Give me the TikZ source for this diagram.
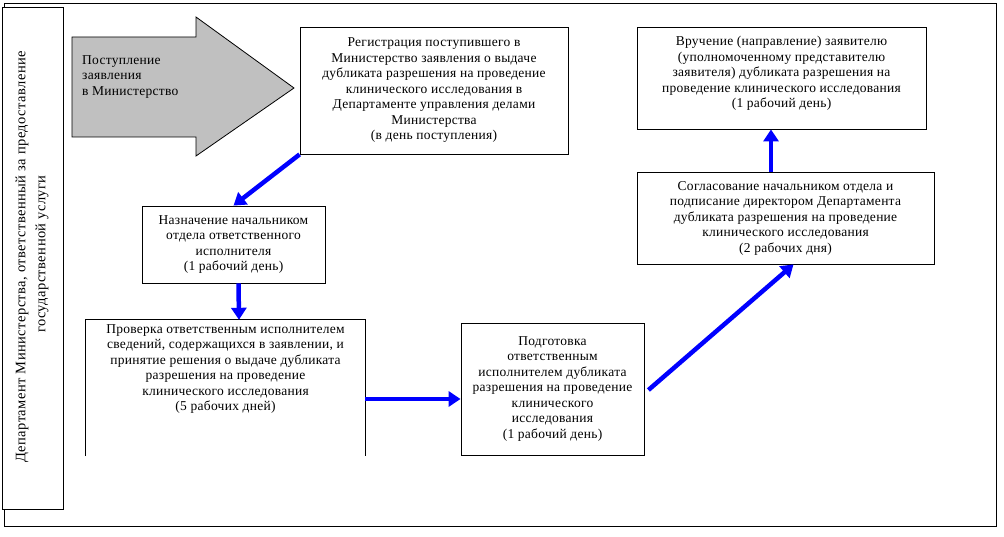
\documentclass[tikz,border=0pt]{standalone}
\usepackage{fontspec}
\setmainfont{Liberation Serif}[LetterSpace=2]
\newfontfamily\lanefont{Liberation Serif}[LetterSpace=3]
\usetikzlibrary{arrows.meta,calc}
\tikzset{
  box/.style={draw, line width=0.8pt, align=center, inner sep=2pt, font=\fontsize{13.5}{15.5}\selectfont},
  txt/.style={align=center, inner sep=0pt, font=\fontsize{13.5}{15.5}\selectfont},
  arr/.style={draw=blue, line width=4.5pt, -{Triangle[length=12pt,width=15pt]}},
}
\begin{document}
\begin{tikzpicture}[x=1pt,y=-1pt]
\useasboundingbox (0,0) rectangle (1004,537);
% outer frame and lane label box
\draw[line width=0.8pt] (4,3) rectangle (996,526);
\node[draw, line width=0.8pt, fill=white, minimum width=61pt, minimum height=502pt, inner sep=0pt] (lane) at (32.5,258) {};
\node[txt, rotate=90, font=\lanefont\fontsize{14.5}{16}\selectfont] (lane1) at (22,257) {Департамент Министерства, ответственный за предоставление};
\node[txt, rotate=90, font=\lanefont\fontsize{14.5}{16}\selectfont] (lane2) at (42,254) {государственной услуги};
% big grey arrow
\draw[line width=0.8pt, fill={rgb,255:red,192;green,192;blue,192}]
  (72,37) -- (196,37) -- (196,17) -- (294,88) -- (196,156) -- (196,137) -- (72,137) -- cycle;
\node[txt, align=left, anchor=north west] (start) at (82,55) {Поступление\\заявления\\в Министерство};
% boxes
\node[box, minimum width=268pt, minimum height=127pt] (reg) at (434,90.5)
 {Регистрация поступившего в\\Министерство заявления о выдаче\\дубликата разрешения на проведение\\клинического исследования в\\Департаменте управления делами\\Министерства\\(в день поступления)};
\node[box, minimum width=183pt, minimum height=77pt] (nazn) at (233.5,244.5)
 {Назначение начальником\\отдела ответственного\\исполнителя\\(1 рабочий день)};
\node[txt, minimum width=279pt, minimum height=136pt] (prov) at (225.5,388) {};
\draw[line width=0.8pt] (prov.south west) -- (prov.north west) -- (prov.north east) -- (prov.south east);
\node[txt, anchor=north] (provt) at (225.5,324)
 {Проверка ответственным исполнителем\\сведений, содержащихся в заявлении, и\\принятие решения о выдаче дубликата\\разрешения на проведение\\клинического исследования\\(5 рабочих дней)};
\node[box, minimum width=183pt, minimum height=132pt] (podg) at (552.5,389)
 {Подготовка\\ответственным\\исполнителем дубликата\\разрешения на проведение\\клинического\\исследования\\(1 рабочий день)};
\node[box, minimum width=297pt, minimum height=92pt] (sogl) at (785.5,218)
 {Согласование начальником отдела и\\подписание директором Департамента\\дубликата разрешения на проведение\\клинического исследования\\(2 рабочих дня)};
\node[box, minimum width=289pt, minimum height=102pt, text depth=12pt] (vruch) at (781.5,78)
 {Вручение (направление) заявителю\\(уполномоченному представителю\\заявителя) дубликата разрешения на\\проведение клинического исследования\\(1 рабочий день)};
% connectors
\draw[arr] (reg.south west) -- (nazn.north);
\draw[arr] ($(nazn.south)+(5,0)$) -- ($(prov.north)+(13.5,0)$);
\draw[arr] ($(prov.east)+(0,11)$) -- ($(podg.west)+(0,10)$);
\draw[arr] ($(podg.east)+(4,1)$) -- ($(sogl.south)+(8,0)$);
\draw[arr] ($(sogl.north)+(-14.5,0)$) -- ($(vruch.south)+(-10.5,0)$);
\end{tikzpicture}
\end{document}
